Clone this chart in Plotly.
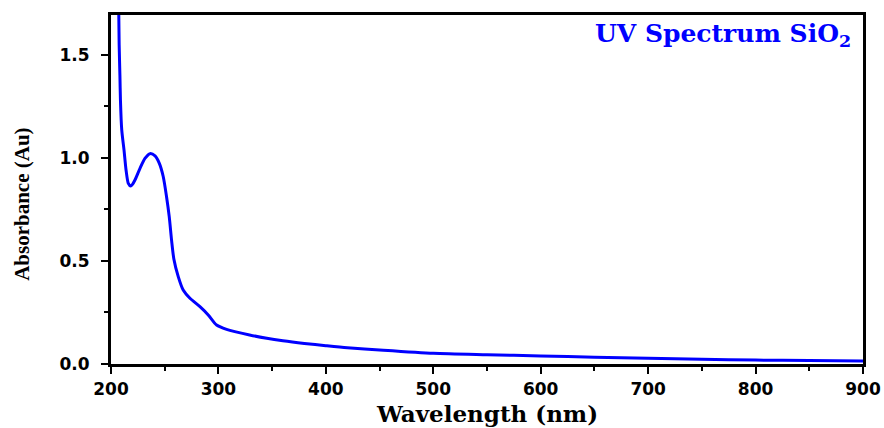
import plotly.graph_objects as go

wavelength = [207.0, 207.6, 208.3, 208.8, 210, 212.1, 214, 216.1, 218.3, 220, 222.3, 227, 231.6,
              236.3, 241, 245, 248.6, 251.7, 254.2, 256.4, 258.5, 262.6, 267.2, 273.5, 282.8,
              290.5, 298.3, 307.6, 329, 345, 360, 380, 400, 420, 450, 500, 550, 600, 650,
              700, 750, 800, 850, 900]
absorbance = [1.80, 1.55, 1.40, 1.28, 1.136, 1.039, 0.942, 0.877, 0.864, 0.872, 0.893, 0.95, 0.998,
              1.021, 1.01, 0.974, 0.91, 0.812, 0.715, 0.60, 0.51, 0.424, 0.359, 0.319, 0.278,
              0.238, 0.189, 0.168, 0.141, 0.125, 0.113, 0.1, 0.089, 0.079, 0.068, 0.052, 0.045,
              0.039, 0.033, 0.028, 0.023, 0.019, 0.017, 0.015]

x_ticks = [200, 300, 400, 500, 600, 700, 800, 900]
y_ticks = [0.0, 0.5, 1.0, 1.5]
y_tick_labels = ["0.0", "0.5", "1.0", "1.5"]

fig = go.Figure()
fig.add_trace(go.Scatter(x=wavelength, y=absorbance, mode="lines",
                         line=dict(color="#0000ff", width=3, shape="spline", smoothing=0.7),
                         showlegend=False, hoverinfo="skip"))

tickfont = dict(family="DejaVu Sans", size=17, color="black", weight="bold")
axis_common = dict(showline=True, linecolor="black", linewidth=3, mirror=True,
                   ticks="outside", tickcolor="black", tickwidth=2, ticklen=7,
                   showgrid=False, zeroline=False, tickfont=tickfont, automargin=False)

fig.update_xaxes(range=[200, 900], tickvals=x_ticks,
                 minor=dict(dtick=50, ticks="outside", ticklen=4, tickwidth=2, tickcolor="black", showgrid=False),
                 ticklabelstandoff=1, **axis_common)
fig.update_yaxes(range=[0, 1.694], tickvals=y_ticks, ticktext=y_tick_labels,
                 minor=dict(dtick=0.25, ticks="outside", ticklen=4, tickwidth=2, tickcolor="black", showgrid=False),
                 ticklabelstandoff=8, **axis_common)

fig.add_annotation(xref="paper", yref="paper", x=0.5, y=0, yshift=-49,
                   xanchor="center", yanchor="middle", showarrow=False,
                   text="<b>Wavelength (nm)</b>",
                   font=dict(family="DejaVu Serif", size=23, color="black"))
fig.add_annotation(xref="paper", yref="paper", x=0, y=0.456, xshift=-89,
                   xanchor="center", yanchor="middle", showarrow=False, textangle=-90,
                   text="<b>Absorbance (Au)</b>",
                   font=dict(family="Liberation Serif", size=21, color="black"))
fig.add_annotation(xref="paper", yref="paper", x=1, y=1, xshift=-10, yshift=-20,
                   xanchor="right", yanchor="middle", showarrow=False,
                   text="<b>UV Spectrum SiO<sub>2</sub></b>",
                   font=dict(family="DejaVu Serif", size=25, color="#0000ff"))

fig.update_layout(width=884, height=428, margin=dict(l=111, r=21, t=15, b=64),
                  plot_bgcolor="white", paper_bgcolor="white")

fig.write_html("out.html", config={"displayModeBar": False},
               post_script="document.body.style.margin='0';document.body.style.overflow='hidden';")
